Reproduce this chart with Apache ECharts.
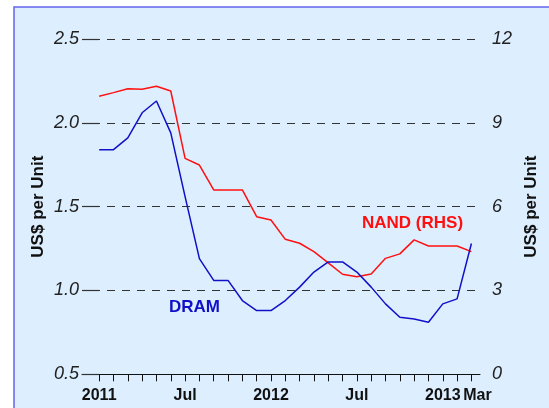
<!DOCTYPE html>
<html>
<head>
<meta charset="utf-8">
<script src="https://cdn.jsdelivr.net/npm/echarts@6/dist/echarts.min.js"></script>
<style>
  html, body { margin: 0; padding: 0; background: #fff; }
  #chart { width: 549px; height: 408px; }
</style>
</head>
<body>
<div id="chart"></div>
<script>
// months Jan 2011 .. Mar 2013
var months = ['Jan-11', 'Feb-11', 'Mar-11', 'Apr-11', 'May-11', 'Jun-11', 'Jul-11', 'Aug-11', 'Sep-11',
    'Oct-11', 'Nov-11', 'Dec-11', 'Jan-12', 'Feb-12', 'Mar-12', 'Apr-12', 'May-12', 'Jun-12', 'Jul-12',
    'Aug-12', 'Sep-12', 'Oct-12', 'Nov-12', 'Dec-12', 'Jan-13', 'Feb-13', 'Mar-13'];

// US$ per unit, left axis
var dram = [1.84, 1.84, 1.91, 2.06, 2.13, 1.94, 1.56, 1.19, 1.06, 1.06, 0.94, 0.88, 0.88, 0.94,
    1.02, 1.11, 1.17, 1.17, 1.11, 1.02, 0.92, 0.84, 0.83, 0.81, 0.92, 0.95, 1.28];

// US$ per unit, right axis
var nand = [9.95, 10.08, 10.22, 10.2, 10.31, 10.14, 7.73, 7.49, 6.6, 6.6, 6.6, 5.64, 5.52, 4.83,
    4.69, 4.39, 3.99, 3.58, 3.49, 3.59, 4.15, 4.31, 4.81, 4.59, 4.59, 4.59, 4.39];

var labelIdx = [0, 6, 12, 18, 24, 26];
var labelText = ['2011', 'Jul', '2012', 'Jul', '2013', 'Mar'];

var font = 'Liberation Sans, Arial, sans-serif';

(function () {
    var chart = echarts.init(document.getElementById('chart'));

    var tickIdx = months.map(function (m, i) { return i; });
    var dramData = dram.map(function (v, i) { return [i, v]; });
    var nandData = nand.map(function (v, i) { return [i, v]; });

    var option = {
        backgroundColor: '#fff',
        animation: false,
        graphic: [
            {
                type: 'rect', z: -10, silent: true,
                shape: { x: 14, y: 7, width: 560, height: 420 },
                style: { fill: '#ddeefe', stroke: '#6464f0', lineWidth: 1.5 }
            },
            {
                type: 'text', left: 362, top: 215,
                style: { text: 'NAND (RHS)', fill: '#ff1010', font: 'bold 17px ' + font }
            },
            {
                type: 'text', left: 169, top: 299,
                style: { text: 'DRAM', fill: '#1010c8', font: 'bold 17px ' + font }
            }
        ],
        grid: { left: 82, right: 69, top: 39, bottom: 33.7 },
        xAxis: {
            type: 'value',
            min: -1.2,
            max: 26.6,
            splitLine: { show: false },
            axisLine: { onZero: false, lineStyle: { color: '#111', width: 1 } },
            axisTick: { customValues: tickIdx, length: 7, lineStyle: { color: '#111' } },
            axisLabel: {
                customValues: labelIdx,
                margin: 13,
                color: '#111',
                fontFamily: font,
                fontWeight: 'bold',
                fontSize: 16,
                formatter: function (v) {
                    var t = labelText[labelIdx.indexOf(Math.round(v))];
                    return t === 'Mar' ? '{m|Mar}' : t;
                },
                rich: { m: { fontFamily: font, fontWeight: 'bold', fontSize: 16, color: '#111', padding: [0, 0, 0, 12] } }
            }
        },
        yAxis: [
            {
                type: 'value', min: 0.5, max: 2.5, interval: 0.5,
                name: 'US$ per Unit', nameLocation: 'middle', nameRotate: 90, nameGap: 35,
                nameMoveOverlap: false,
                nameTextStyle: { fontFamily: font, fontWeight: 'bold', fontSize: 17, color: '#111' },
                axisLine: { show: true, onZero: false, lineStyle: { color: 'rgba(0,0,0,0)' } },
                axisTick: { show: true, inside: true, length: 17, lineStyle: { color: '#333', width: 1.2 } },
                splitLine: { lineStyle: { color: '#333', width: 1.2, type: [8, 7], dashOffset: 5 } },
                axisLabel: {
                    margin: 3, color: '#222', fontFamily: font, fontStyle: 'italic', fontSize: 18,
                    formatter: function (v) { return v.toFixed(1); }
                }
            },
            {
                type: 'value', min: 0, max: 12, interval: 3,
                name: 'US$ per Unit', nameLocation: 'middle', nameRotate: 90, nameGap: 41,
                nameTextStyle: { fontFamily: font, fontWeight: 'bold', fontSize: 17, color: '#111' },
                axisLine: { show: false, onZero: false },
                axisTick: { show: false },
                splitLine: { show: false },
                axisLabel: { margin: 12, color: '#222', fontFamily: font, fontStyle: 'italic', fontSize: 18 }
            }
        ],
        series: [
            {
                name: 'NAND (RHS)', type: 'line', yAxisIndex: 1, data: nandData,
                showSymbol: false, lineStyle: { color: '#ff1010', width: 1.5 }
            },
            {
                name: 'DRAM', type: 'line', yAxisIndex: 0, data: dramData,
                showSymbol: false, lineStyle: { color: '#1010c8', width: 1.5 }
            }
        ]
    };

    chart.setOption(option);
})();
</script>
</body>
</html>
